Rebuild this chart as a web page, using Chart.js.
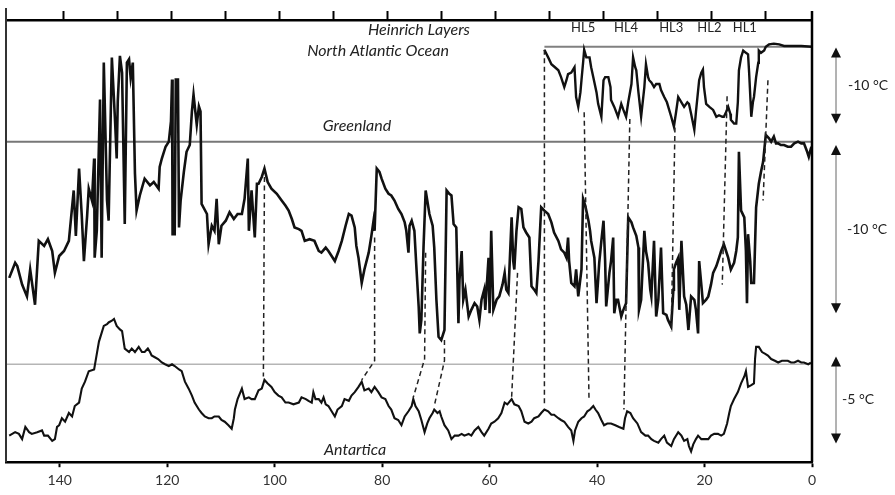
<!DOCTYPE html>
<html>
<head>
<meta charset="utf-8">
<script src="https://cdn.jsdelivr.net/npm/chart.js@4/dist/chart.umd.min.js"></script>
<style>
  html, body { margin: 0; padding: 0; background: #fff; }
  #wrap { width: 895px; height: 495px; }
</style>
</head>
<body>
<div id="wrap"><canvas id="c" width="895" height="495"></canvas></div>
<script>
// Age axis (ka before present)
const bottomTicks = [0, 20, 40, 60, 80, 100, 120, 140];
const topTicks = [10, 20, 30, 40, 50, 60, 70, 80, 90, 100, 110, 120, 130, 140];

// Greenland ice core temperature anomaly (°C)
const greenlandAge = [
  149.4,148.3,147.9,147.0,146.1,145.5,144.6,143.9,142.9,142.2,141.4,140.9,140.1,139.2,138.3,137.4,137.0,136.4,135.9,135.5,
  134.9,134.6,134.0,133.6,133.5,133.1,132.5,132.2,131.8,131.2,130.9,130.3,129.7,129.4,129.2,128.8,128.4,127.9,127.5,127.1,
  126.8,126.4,126.0,125.7,125.1,124.2,123.2,122.5,121.6,121.4,121.0,120.3,119.7,119.3,119.1,119.0,118.6,118.4,118.0,117.8,
  117.5,116.9,116.4,115.8,115.4,115.1,114.5,114.1,113.8,113.6,112.6,112.3,111.7,111.2,110.8,110.4,109.9,109.1,108.4,107.6,
  106.9,106.1,105.6,105.0,104.8,104.3,103.7,103.3,103.0,102.4,101.9,101.3,100.6,99.6,98.7,98.0,97.4,96.8,96.3,95.5,
  95.0,94.4,93.5,92.6,91.8,91.3,90.5,90.0,89.4,88.8,88.1,87.5,86.8,86.2,85.7,85.1,84.8,84.4,83.8,83.3,
  82.5,82.0,81.6,81.4,81.0,80.5,80.1,79.4,78.8,78.3,77.7,77.0,76.4,75.8,75.5,75.1,74.9,74.5,74.0,73.6,
  73.2,73.0,72.7,72.3,71.9,71.6,71.2,70.6,70.3,69.9,69.5,69.0,68.4,68.2,68.0,67.5,67.1,66.7,66.2,65.8,
  65.6,65.2,64.9,64.5,63.9,63.4,62.8,62.3,61.9,61.5,61.0,60.8,60.2,60.0,59.7,59.3,58.7,58.2,57.6,57.2,
  56.9,56.5,55.9,55.6,55.4,55.0,54.6,54.1,53.7,53.2,52.6,52.2,51.7,51.3,50.9,50.4,49.8,49.1,48.5,48.0,
  47.2,46.7,46.1,45.7,45.4,45.2,44.8,44.2,43.9,43.5,42.9,42.6,42.2,41.6,41.3,41.1,40.5,40.1,39.8,39.6,
  39.2,38.8,38.5,38.3,37.7,37.4,37.0,36.8,36.4,36.1,35.5,35.1,34.6,34.2,33.6,33.3,32.7,32.3,32.2,31.8,
  31.2,30.9,30.5,30.1,29.9,29.4,29.0,28.6,28.1,27.7,27.1,26.8,26.2,25.8,25.7,25.3,24.9,24.7,24.3,23.8,
  23.4,23.0,22.5,21.9,21.6,21.2,21.0,20.6,20.3,19.7,19.3,18.8,18.4,17.8,17.5,16.9,16.4,16.0,15.6,15.1,
  14.5,14.1,13.8,13.6,13.2,12.6,12.3,12.1,11.9,11.5,11.3,10.8,10.4,9.9,9.5,9.1,8.6,8.0,7.6,7.1,
  6.7,6.3,5.8,5.2,4.5,3.9,3.3,2.6,2.0,1.5,0.9,0.6,0.2,0
];
const greenlandT = [
  -8.1,-7.2,-7.4,-8.5,-9.2,-7.6,-9.7,-5.9,-6.2,-5.8,-6.5,-7.8,-6.8,-6.5,-5.9,-2.9,-5.6,-1.6,-4.4,-7.1,
  -4.4,-2.8,-3.5,-1.0,-6.9,-5.3,2.5,-6.9,4.7,-3.5,-4.7,5.0,1.2,-1.0,2.4,5.1,4.1,-4.9,4.7,4.9,
  3.8,4.7,-1.9,-4.1,-3.2,-2.2,-2.6,-2.4,-2.8,-1.5,-1.0,-0.3,0,1.2,3.7,-5.5,-5.5,3.7,3.7,-5.1,
  -3.5,-1.8,-0.6,-0.2,1.8,2.8,1.0,2.1,1.8,-3.7,-4.3,-6.1,-5.0,-5.3,-3.4,-6.1,-5.0,-4.7,-4.2,-4.6,
  -4.3,-4.3,-3.4,-1.0,-5.3,-2.9,-5.7,-2.5,-2.5,-2.1,-1.6,-2.4,-2.8,-3.1,-3.5,-3.8,-4.1,-4.6,-5.1,-5.2,
  -5.3,-5.9,-5.8,-5.9,-6.5,-6.6,-6.3,-6.5,-6.8,-7.1,-6.5,-5.9,-5.0,-4.3,-4.4,-5.1,-6.2,-6.9,-8.4,-7.6,
  -6.6,-5.6,-4.7,-5.3,-1.6,-1.8,-2.2,-2.8,-3.1,-3.2,-3.5,-4.0,-4.3,-4.8,-5.3,-6.6,-5.0,-4.7,-5.3,-7.6,
  -9.8,-11.4,-10.6,-6.3,-2.9,-3.5,-4.3,-5.0,-6.3,-9.4,-11.6,-11.8,-11.2,-7.1,-2.9,-3.1,-3.2,-4.9,-5.1,-10.8,
  -8.2,-6.5,-9.4,-8.8,-10.4,-10.0,-9.6,-9.8,-10.6,-9.4,-8.8,-10.0,-6.9,-10.2,-5.3,-10.0,-9.4,-9.2,-8.5,-7.8,
  -8.8,-9.0,-4.5,-7.1,-7.6,-5.3,-3.9,-4.0,-5.1,-5.4,-5.7,-8.6,-8.8,-9.0,-7.1,-3.9,-4.1,-4.3,-4.8,-5.4,
  -5.9,-6.4,-6.6,-6.9,-5.7,-7.1,-8.4,-8.6,-7.6,-9.2,-7.6,-3.4,-3.8,-4.7,-5.3,-5.9,-6.9,-9.6,-8.2,-7.2,
  -5.9,-4.7,-7.1,-9.8,-7.8,-7.1,-5.7,-10.2,-9.4,-9.4,-10.4,-10.0,-9.6,-4.5,-4.8,-5.1,-5.6,-6.3,-10.0,-9.4,
  -5.3,-6.5,-7.2,-8.8,-9.2,-5.9,-10.4,-9.4,-6.3,-10.2,-10.3,-10.6,-11.0,-8.8,-7.6,-7.2,-6.9,-10.0,-5.9,-9.2,
  -9.7,-11.2,-9.2,-9.4,-10.0,-11.4,-7.1,-8.5,-9.6,-9.4,-9.2,-8.5,-7.8,-7.4,-7.1,-6.5,-6.1,-6.5,-6.9,-7.6,
  -7.2,-6.5,-5.7,-0.6,-4.1,-4.5,-6.5,-9.6,-5.5,-7.1,-8.4,-8.4,-3.9,-2.5,-1.8,-1.2,0.4,0.2,0,0.3,
  -0.1,-0.1,-0.2,-0.2,-0.3,-0.3,-0.1,0,-0.1,-0.1,-0.6,-0.9,-0.4,-0.3
];

// North Atlantic sea-surface temperature anomaly (°C)
const atlanticAge = [
  49.8,49.1,48.5,48.0,47.2,46.7,46.1,45.7,45.4,44.8,44.2,43.9,43.5,43.1,42.9,42.6,42.4,42.0,41.4,41.1,
  40.7,40.1,39.8,39.2,38.8,38.5,37.9,37.5,37.4,36.8,36.1,35.5,35.1,34.6,34.2,33.6,33.3,32.9,32.7,32.3,
  31.8,31.2,30.9,30.5,30.3,29.9,29.4,29.0,28.4,28.1,27.5,27.0,26.2,25.7,25.3,24.9,24.3,23.8,23.2,22.9,
  22.5,21.9,21.6,21.0,20.6,20.3,20.1,19.7,19.1,18.4,17.8,17.3,16.7,16.4,16.0,15.6,15.2,15.1,14.5,14.1,
  13.8,13.6,13.2,12.8,12.3,11.9,11.7,11.3,11.0,10.8,10.4,10.0,9.9,9.5,8.9,8.6,8.0,7.1,6.1,5.2,
  3.9,2.0,0
];
const atlanticT = [
  -0.4,-1.4,-2.3,-2.6,-3.1,-4.0,-5.3,-4.4,-3.6,-3.4,-2.7,-6.6,-7.9,-6.0,-4.4,-2.1,-0.4,-1.4,-1.4,-2.7,
  -4.0,-6.0,-7.5,-9.2,-4.4,-4.0,-4.0,-5.3,-7.0,-7.9,-9.2,-7.5,-8.3,-9.2,-7.3,-4.9,-1.4,-2.7,-3.1,-6.0,
  -9.2,-5.3,-2.3,-4.0,-4.4,-4.7,-5.3,-4.9,-4.9,-5.7,-6.6,-7.3,-9.2,-10.5,-8.6,-6.6,-7.3,-7.9,-7.3,-7.5,
  -8.8,-10.9,-8.6,-4.4,-3.4,-3.0,-5.3,-7.5,-7.9,-8.3,-9.2,-9.0,-9.2,-9.2,-8.6,-7.9,-8.8,-9.6,-10.1,-10.1,
  -7.3,-3.1,-1.4,-0.5,-0.8,-1.0,-3.4,-9.2,-7.3,-6.6,-4.0,-2.1,-0.5,-0.8,-0.5,0,0.3,0.4,0.3,0.1,
  0.1,0.1,0
];

// Antarctic ice core temperature anomaly (°C)
const antarcticaAge = [
  149.4,148.3,147.6,147.0,146.4,145.7,145.2,144.2,143.3,142.9,142.2,141.4,140.9,140.5,140.1,139.6,139.0,138.3,137.7,137.2,
  136.4,135.9,135.3,134.6,133.6,133.1,132.7,132.2,131.8,131.2,130.9,130.3,129.9,129.4,128.8,128.4,127.9,127.1,126.6,126.0,
  125.3,124.7,124.2,123.6,123.2,122.9,122.3,121.7,121.0,120.4,119.7,119.1,118.6,117.8,117.3,116.7,116.0,115.4,114.9,114.1,
  113.6,113.0,112.3,111.7,111.2,110.4,109.9,109.3,108.6,108.0,107.6,107.4,106.9,106.1,105.6,104.8,104.3,103.7,103.0,102.4,
  101.9,101.3,100.6,100.0,99.3,98.7,98.0,97.4,96.5,95.5,95.0,94.2,93.7,93.1,92.8,92.4,91.8,91.3,90.9,90.5,
  90.0,89.4,88.8,88.3,87.5,87.0,86.2,85.7,85.1,84.4,83.8,83.3,82.5,82.0,81.4,80.7,80.1,79.4,78.8,78.3,
  77.7,77.0,76.4,75.8,75.1,74.5,74.2,73.8,73.2,72.7,72.1,71.6,71.2,70.6,70.3,69.7,69.3,69.0,68.4,67.7,
  67.1,66.5,65.8,65.2,64.7,63.9,63.4,62.8,62.1,61.5,61.0,60.2,59.7,59.1,58.4,57.8,57.2,56.7,55.9,55.4,
  54.6,54.1,53.5,52.8,52.2,51.7,50.9,50.4,49.8,49.1,48.5,48.0,47.2,46.7,46.1,45.4,44.8,44.4,44.1,43.5,
  42.9,42.4,41.8,41.3,40.7,40.3,39.8,39.2,38.7,38.1,37.4,36.6,35.9,35.1,34.8,34.4,33.8,33.3,32.5,31.8,
  31.0,30.5,29.9,29.4,28.6,28.1,27.5,27.0,26.2,25.7,24.9,24.3,23.8,23.2,22.9,22.5,22.1,21.6,21.2,20.6,
  19.9,19.3,18.8,18.2,17.5,16.9,16.4,15.8,15.4,15.1,14.5,13.8,13.2,12.6,12.3,11.9,11.3,10.8,10.6,10.4,
  9.9,9.3,8.7,8.2,7.6,6.9,6.3,5.6,5.0,4.5,3.9,3.3,2.6,2.0,1.5,0.7,0.2
];
const antarcticaT = [
  -4.1,-3.9,-4.0,-4.3,-3.6,-3.9,-4.0,-3.9,-3.8,-4.1,-4.1,-4.4,-4.3,-3.6,-3.5,-3.1,-3.3,-2.8,-3.0,-2.4,
  -2.2,-1.4,-1.0,-0.4,-0.3,0.6,1.3,1.8,2.2,2.3,2.4,2.5,2.6,2.2,2.0,1.9,0.9,0.7,0.9,0.7,
  1.0,0.7,0.7,0.9,0.7,0.5,0.4,0.3,0.1,0,-0.1,0,-0.1,-0.3,-0.4,-1.0,-1.4,-1.8,-2.2,-2.6,
  -2.8,-3.0,-3.1,-3.1,-3.0,-3.0,-3.2,-3.3,-3.5,-3.7,-3.1,-2.6,-2.0,-1.4,-2.0,-1.9,-2.0,-2.0,-1.5,-1.4,
  -0.9,-1.1,-1.3,-1.6,-1.8,-1.9,-2.2,-2.2,-2.3,-2.2,-1.9,-2.0,-2.1,-2.2,-1.6,-2.0,-2.0,-2.2,-1.9,-2.3,
  -2.4,-2.7,-3.0,-2.6,-2.4,-2.0,-2.1,-1.8,-1.6,-1.3,-1.0,-1.5,-1.4,-1.6,-1.3,-1.6,-1.9,-2.0,-2.4,-2.6,
  -3.1,-3.2,-3.5,-3.0,-2.7,-2.4,-2.0,-2.4,-2.7,-3.2,-3.9,-3.4,-3.1,-2.8,-2.6,-2.8,-2.7,-3.0,-3.5,-3.8,
  -4.3,-4.1,-4.1,-4.0,-4.1,-4.0,-4.1,-3.8,-3.6,-3.9,-4.1,-3.7,-3.4,-3.3,-3.1,-2.8,-2.2,-2.3,-2.0,-2.3,
  -2.4,-2.7,-3.3,-3.4,-3.3,-3.1,-3.0,-2.8,-2.6,-2.7,-2.9,-2.9,-3.1,-3.2,-3.3,-3.6,-3.8,-4.4,-3.8,-3.3,
  -3.1,-3.0,-2.7,-2.6,-2.4,-2.6,-2.8,-3.2,-3.5,-3.4,-3.4,-3.5,-3.6,-3.7,-3.1,-2.7,-2.8,-3.1,-3.4,-3.9,
  -4.1,-4.1,-4.3,-4.4,-4.5,-4.3,-4.1,-4.5,-4.7,-4.3,-3.9,-4.1,-4.4,-4.3,-4.7,-5.0,-4.6,-4.3,-4.1,-4.3,
  -4.3,-4.3,-4.1,-4.0,-4.0,-4.1,-4.0,-3.4,-2.8,-2.4,-2.0,-1.6,-1.1,-0.7,-0.4,-1.3,-1.2,-1.1,0.3,1.0,
  1.0,0.7,0.6,0.5,0.3,0.2,0.1,0.2,0.2,0.2,0.1,0.1,0.2,0.1,0.1,0,0.1
];

// Heinrich layers in North Atlantic sediments (ka)
const heinrichNames = ['HL5', 'HL4', 'HL3', 'HL2', 'HL1'];
const heinrichAge = [42.6, 34.6, 26.2, 19.1, 12.5];

// Event correlations between records: [age, record axis, anomaly] vertices
const correlations = [
  [[49.8, 'yN', -0.4], [49.8, 'yA', -2.4]],
  [[42.4, 'yN', -8.6], [41.5, 'yA', -2.0]],
  [[33.9, 'yN', -9.5], [35.0, 'yA', -2.6]],
  [[25.5, 'yN', -10.6], [26.2, 'yG', -11.3]],
  [[15.8, 'yN', -6.5], [16.7, 'yG', -8.5]],
  [[8.2, 'yN', -4.4], [9.1, 'yG', -3.5]],
  [[101.9, 'yG', -2.1], [102.1, 'yA', -0.7]],
  [[81.4, 'yG', -5.7], [81.4, 'yA', 0.2], [83.8, 'yA', -0.9]],
  [[71.9, 'yG', -6.6], [72.1, 'yA', 0.3], [74.2, 'yA', -1.9]],
  [[68.4, 'yG', -11.8], [68.4, 'yA', 0.2], [70.3, 'yA', -2.4]],
  [[54.8, 'yG', -7.8], [55.9, 'yA', -1.9]]
];

// Temperature scale bars: record axis, top, bottom, caption
const barAxis = ['yN', 'yG', 'yA'];
const barTop = [-0.1, -0.2, 0.45];
const barBottom = [-10.1, -10.2, -4.55];
const barLabel = ['-10 °C', '-10 °C', '-5 °C'];

const toPoints = (ages, vals) => ages.map((a, i) => ({ x: a, y: vals[i] }));

const FONT = 'Lato, "Open Sans", sans-serif';

const annotations = {
  id: 'annotations',
  afterDatasetsDraw(chart) {
    const { ctx, chartArea: a, scales } = chart;
    const x = scales.x;
    ctx.save();

    // dashed correlation lines
    ctx.strokeStyle = '#222';
    ctx.lineWidth = 1.5;
    ctx.setLineDash([5, 3.5]);
    correlations.forEach(path => {
      ctx.beginPath();
      path.forEach(([age, ax, v], i) => {
        const px = x.getPixelForValue(age), py = scales[ax].getPixelForValue(v);
        if (i === 0) ctx.moveTo(px, py); else ctx.lineTo(px, py);
      });
      ctx.stroke();
    });
    ctx.setLineDash([]);

    // side frame lines
    ctx.strokeStyle = '#333';
    ctx.lineWidth = 2;
    ctx.beginPath();
    ctx.moveTo(a.left, a.top - 12);
    ctx.lineTo(a.left, a.bottom);
    ctx.stroke();
    ctx.strokeStyle = '#000';
    ctx.lineWidth = 2.5;
    ctx.beginPath();
    ctx.moveTo(a.right, a.top - 9);
    ctx.lineTo(a.right, a.bottom);
    ctx.stroke();

    // scale bars with arrowheads
    const bx = a.right + 24;
    const labelX = [a.right + 36, a.right + 35, a.right + 30];
    barAxis.forEach((ax, i) => {
      const y1 = scales[ax].getPixelForValue(barTop[i]);
      const y2 = scales[ax].getPixelForValue(barBottom[i]);
      ctx.strokeStyle = '#666';
      ctx.lineWidth = 1;
      ctx.beginPath();
      ctx.moveTo(bx, y1 + 6);
      ctx.lineTo(bx, y2 - 6);
      ctx.stroke();
      ctx.fillStyle = '#111';
      ctx.beginPath();
      ctx.moveTo(bx, y1); ctx.lineTo(bx - 5, y1 + 10); ctx.lineTo(bx + 5, y1 + 10); ctx.closePath();
      ctx.fill();
      ctx.beginPath();
      ctx.moveTo(bx, y2); ctx.lineTo(bx - 5, y2 - 10); ctx.lineTo(bx + 5, y2 - 10); ctx.closePath();
      ctx.fill();
      ctx.font = '14px ' + FONT;
      ctx.textAlign = 'left';
      ctx.textBaseline = 'middle';
      ctx.fillStyle = '#222';
      ctx.fillText(barLabel[i], labelX[i], (y1 + y2) / 2);
    });

    // record titles
    ctx.fillStyle = '#222';
    ctx.textAlign = 'center';
    ctx.textBaseline = 'middle';
    ctx.font = 'italic 16px ' + FONT;
    ctx.fillText('Heinrich Layers', 419, 30);
    ctx.fillText('North Atlantic Ocean', 378, 51);
    ctx.fillText('Greenland', 357, 126);
    ctx.fillText('Antartica', 355, 450);

    // Heinrich layer labels
    ctx.font = '13px ' + FONT;
    heinrichNames.forEach((n, i) => {
      ctx.fillText(n, x.getPixelForValue(heinrichAge[i]), 28);
    });
    ctx.restore();
  }
};

const refLine = (axis, from, to, color, width) => ({
  data: [{ x: from, y: 0 }, { x: to, y: 0 }],
  yAxisID: axis, borderColor: color, borderWidth: width,
  pointRadius: 0, order: 10
});

new Chart(document.getElementById('c'), {
  type: 'line',
  data: {
    datasets: [
      refLine('yG', 150, 0, '#777', 2),
      refLine('yA', 150, 0, '#b5b5b5', 1.5),
      refLine('yN', 49.8, 0, '#808080', 2),
      { label: 'North Atlantic Ocean', data: toPoints(atlanticAge, atlanticT), yAxisID: 'yN',
        borderColor: '#111', borderWidth: 2.4, pointRadius: 0, tension: 0, order: 1 },
      { label: 'Greenland', data: toPoints(greenlandAge, greenlandT), yAxisID: 'yG',
        borderColor: '#111', borderWidth: 2.6, pointRadius: 0, tension: 0, order: 1 },
      { label: 'Antartica', data: toPoints(antarcticaAge, antarcticaT), yAxisID: 'yA',
        borderColor: '#111', borderWidth: 2.1, pointRadius: 0, tension: 0, order: 1 }
    ]
  },
  options: {
    responsive: false,
    animation: false,
    events: [],
    layout: { padding: { left: 6, right: 83, top: 11, bottom: 1 } },
    plugins: { legend: { display: false }, tooltip: { enabled: false } },
    scales: {
      x: {
        type: 'linear', position: 'bottom', min: 0, max: 150, reverse: true,
        afterBuildTicks: s => { s.ticks = bottomTicks.map(v => ({ value: v })); },
        ticks: { color: '#333', font: { family: FONT, size: 14 }, padding: 5, maxRotation: 0 },
        grid: { drawOnChartArea: false, tickLength: 5, tickWidth: 2, tickColor: '#000' },
        border: { display: true, color: '#000', width: 2.5 }
      },
      xTop: {
        type: 'linear', position: 'top', min: 1.3, max: 150.6, reverse: true,
        afterBuildTicks: s => { s.ticks = topTicks.map(v => ({ value: v })); },
        ticks: { display: false },
        grid: { drawOnChartArea: false, tickLength: 9, tickWidth: 2, tickColor: '#000' },
        border: { display: true, color: '#000', width: 2.5 }
      },
      yG: { display: false, min: -19.06, max: 7.235 },
      yN: { display: false, min: -54.55, max: 3.506 },
      yA: { display: false, min: -5.625, max: 19.77 }
    }
  },
  plugins: [annotations]
});
</script>
</body>
</html>
